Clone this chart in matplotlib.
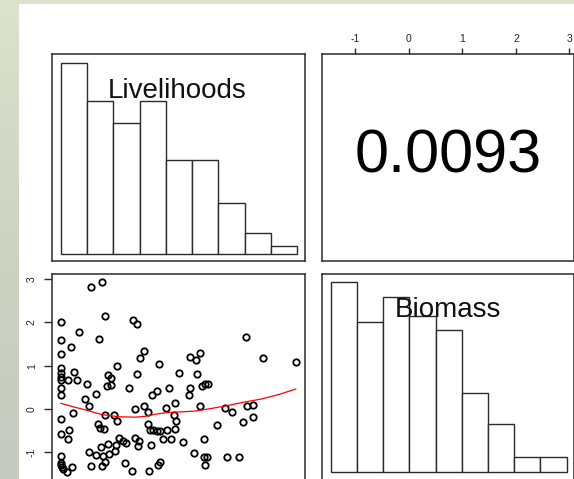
import numpy as np
import matplotlib
matplotlib.use("Agg")
import matplotlib.pyplot as plt
from matplotlib.patches import Rectangle

# ---------------- data ----------------
var_names = ["Livelihoods", "Biomass"]
correlation_text = "0.0093"

livelihoods = [1.13, 1.58, 1.68, 2.76, 2.91, 0.00, 0.67, 1.46, 0.00, 0.38, 0.00, 3.18, 3.01, 2.12, 3.75,
               7.06, 7.72, 8.95, 4.92, 5.14, 5.30, 4.51, 0.00, 0.00, 0.00, 0.00, 0.28, 0.60, 0.50, 1.78,
               1.91, 2.91, 5.20, 1.00, 1.74, 1.91, 2.59, 0.00, 0.00, 1.33, 0.90, 1.08, 3.48, 3.65, 4.12,
               4.88, 4.92, 5.36, 5.49, 5.62, 3.18, 3.32, 2.82, 4.00, 4.34, 5.30, 0.47, 0.00, 1.68, 2.03,
               2.15, 4.31, 4.37, 6.25, 6.53, 7.08, 7.34, 7.31, 6.93, 5.94, 1.40, 1.49, 1.64, 3.32, 3.38,
               3.52, 3.65, 3.78, 4.03, 4.34, 0.00, 0.32, 0.27, 2.22, 2.35, 2.48, 2.10, 1.81, 1.53, 2.83,
               2.99, 2.94, 3.90, 4.21, 4.67, 3.42, 5.47, 1.08, 1.35, 1.60, 1.82, 2.07, 0.00, 5.09, 5.45,
               5.58, 6.32, 6.78, 0.00, 0.00, 0.03, 0.06, 0.22, 0.41, 1.13, 1.55, 1.68, 2.44, 2.72, 3.37,
               3.70, 3.78, 5.48]
biomass = [2.81, 2.93, 2.14, 2.06, 1.97, 2.00, 1.77, 1.62, 1.59, 1.43, 1.27, 1.34, 1.18, 1.00, 1.05,
           1.66, 1.17, 1.09, 1.19, 1.13, 1.30, 0.84, 0.94, 0.84, 0.75, 0.67, 0.67, 0.68, 0.86, 0.78,
           0.72, 0.81, 0.80, 0.57, 0.52, 0.55, 0.49, 0.48, 0.32, 0.34, 0.23, 0.07, 0.33, 0.42, 0.49,
           0.32, 0.49, 0.53, 0.57, 0.58, 0.08, -0.07, 0.00, 0.02, 0.13, 0.07, -0.10, -0.23, -0.15, -0.14,
           -0.27, -0.15, -0.27, 0.03, -0.08, 0.08, 0.10, -0.19, -0.29, -0.38, -0.35, -0.43, -0.47, -0.35, -0.49,
           -0.49, -0.51, -0.51, -0.49, -0.46, -0.59, -0.49, -0.69, -0.68, -0.73, -0.78, -0.84, -0.82, -0.89, -0.68,
           -0.75, -0.86, -0.69, -0.70, -0.76, -0.83, -0.69, -0.99, -1.06, -1.09, -1.05, -0.96, -1.08, -1.01, -1.10,
           -1.10, -1.10, -1.11, -1.24, -1.29, -1.35, -1.39, -1.45, -1.34, -1.32, -1.31, -1.22, -1.24, -1.43, -1.43,
           -1.29, -1.22, -1.30]

# smoother (lowess)
smooth_x = [0.0, 0.41, 0.92, 1.56, 2.20, 2.84, 3.22, 3.61, 4.12, 4.50, 5.08, 5.72, 6.36, 7.00, 7.64, 8.28, 8.95]
smooth_y = [0.13, 0.06, -0.02, -0.13, -0.18, -0.19, -0.17, -0.12, -0.08, -0.07, -0.05, 0.01, 0.08, 0.16, 0.23, 0.33, 0.46]

# diagonal histograms (relative heights, max = 1)
livelihoods_edges = [0, 1, 2, 3, 4, 5, 6, 7, 8, 9]
livelihoods_hist = [1.00, 0.798, 0.685, 0.798, 0.491, 0.491, 0.265, 0.108, 0.043]
biomass_edges = [-1.455, -0.966, -0.477, 0.012, 0.501, 0.990, 1.479, 1.968, 2.457, 2.946]
biomass_hist = [1.00, 0.792, 0.921, 0.820, 0.748, 0.417, 0.252, 0.076, 0.076]

biomass_ticks = [-1, 0, 1, 2, 3]

# axis ranges
liv_lim = (-0.343, 9.306)
bio_lim_x = (-1.617, 3.075)
bio_lim_y = (-1.665, 3.12)

# ---------------- figure ----------------
W, H, DPI = 574, 479, 100
fig = plt.figure(figsize=(W / DPI, H / DPI), dpi=DPI)
fig.patch.set_facecolor("#d3d9c6")
plt.rcParams["font.family"] = ["Liberation Sans", "DejaVu Sans"]

# background gradient (blurred photo look)
bg = fig.add_axes([0, 0, 1, 1], zorder=-10)
grad = np.linspace(0, 1, 200)[:, None]
c_top = np.array([0.86, 0.89, 0.81])
c_mid = np.array([0.80, 0.83, 0.76])
c_bot = np.array([0.78, 0.79, 0.76])
img = np.where(grad < 0.5, c_top + (c_mid - c_top) * (grad / 0.5),
               c_mid + (c_bot - c_mid) * ((grad - 0.5) / 0.5))
img = np.repeat(img[:, None, :], 2, axis=1).reshape(200, 2, 3)
bg.imshow(img, aspect="auto", extent=[0, 1, 0, 1])
bg.set_axis_off()
bg.add_patch(Rectangle((19 / W, 0), 1 - 19 / W, 1 - 4 / H, transform=bg.transAxes,
                       facecolor="white", edgecolor="none"))


def px_axes(x0, y0, x1, y1):
    return fig.add_axes([x0 / W, 1 - y1 / H, (x1 - x0) / W, (y1 - y0) / H])


edge_col = "#2a2a2a"

ax_tl = px_axes(52, 54, 305, 261)
ax_tr = px_axes(322, 54, 573.5, 261)
ax_bl = px_axes(52, 274, 305, 481)
ax_br = px_axes(322, 274, 573.5, 481)

for ax in (ax_tl, ax_tr, ax_bl, ax_br):
    ax.set_facecolor("white")
    for s in ax.spines.values():
        s.set_color(edge_col)
        s.set_linewidth(1.1)
    ax.set_xticks([])
    ax.set_yticks([])

# top-left: Livelihoods histogram
ax_tl.bar(livelihoods_edges[:-1], livelihoods_hist, width=np.diff(livelihoods_edges), align="edge",
          facecolor="white", edgecolor=edge_col, linewidth=1.0)
ax_tl.set_xlim(*liv_lim)
ax_tl.set_ylim(-0.037, 1.045)
ax_tl.text(0.494, 0.821, var_names[0], transform=ax_tl.transAxes, ha="center", va="center",
           fontsize=20, color="#111111")

# top-right: correlation
ax_tr.set_xlim(*bio_lim_x)
ax_tr.set_ylim(0, 1)
ax_tr.text(0.502, 0.502, correlation_text, transform=ax_tr.transAxes, ha="center", va="center",
           fontsize=44, color="black")
ax_tr.xaxis.set_ticks_position("top")
ax_tr.set_xticks(biomass_ticks)
ax_tr.set_xticklabels([str(t) for t in biomass_ticks])
ax_tr.tick_params(axis="x", top=True, bottom=False, labeltop=True, labelbottom=False,
                  length=4.5, width=1.0, color=edge_col, labelsize=7.5, labelcolor="#222222", pad=3)

# bottom-left: scatter
ax_bl.plot(livelihoods, biomass, linestyle="none", marker="o", markersize=4.6,
           markerfacecolor="none", markeredgecolor="black", markeredgewidth=1.3)
ax_bl.plot(smooth_x, smooth_y, color="red", linewidth=0.9)
ax_bl.set_xlim(*liv_lim)
ax_bl.set_ylim(*bio_lim_y)
ax_bl.set_yticks(biomass_ticks)
ax_bl.set_yticklabels([str(t) for t in biomass_ticks], rotation=90, va="center")
ax_bl.tick_params(axis="y", left=True, length=6, width=1.0, color=edge_col,
                  labelsize=7.5, labelcolor="#222222", pad=5)

# bottom-right: Biomass histogram
ax_br.bar(biomass_edges[:-1], biomass_hist, width=np.diff(biomass_edges), align="edge",
          facecolor="white", edgecolor=edge_col, linewidth=1.0)
ax_br.set_xlim(*bio_lim_x)
ax_br.set_ylim(-0.049, 1.044)
ax_br.text(0.502, 0.826, var_names[1], transform=ax_br.transAxes, ha="center", va="center",
           fontsize=20, color="#111111")

fig.savefig("out.png", dpi=DPI)
